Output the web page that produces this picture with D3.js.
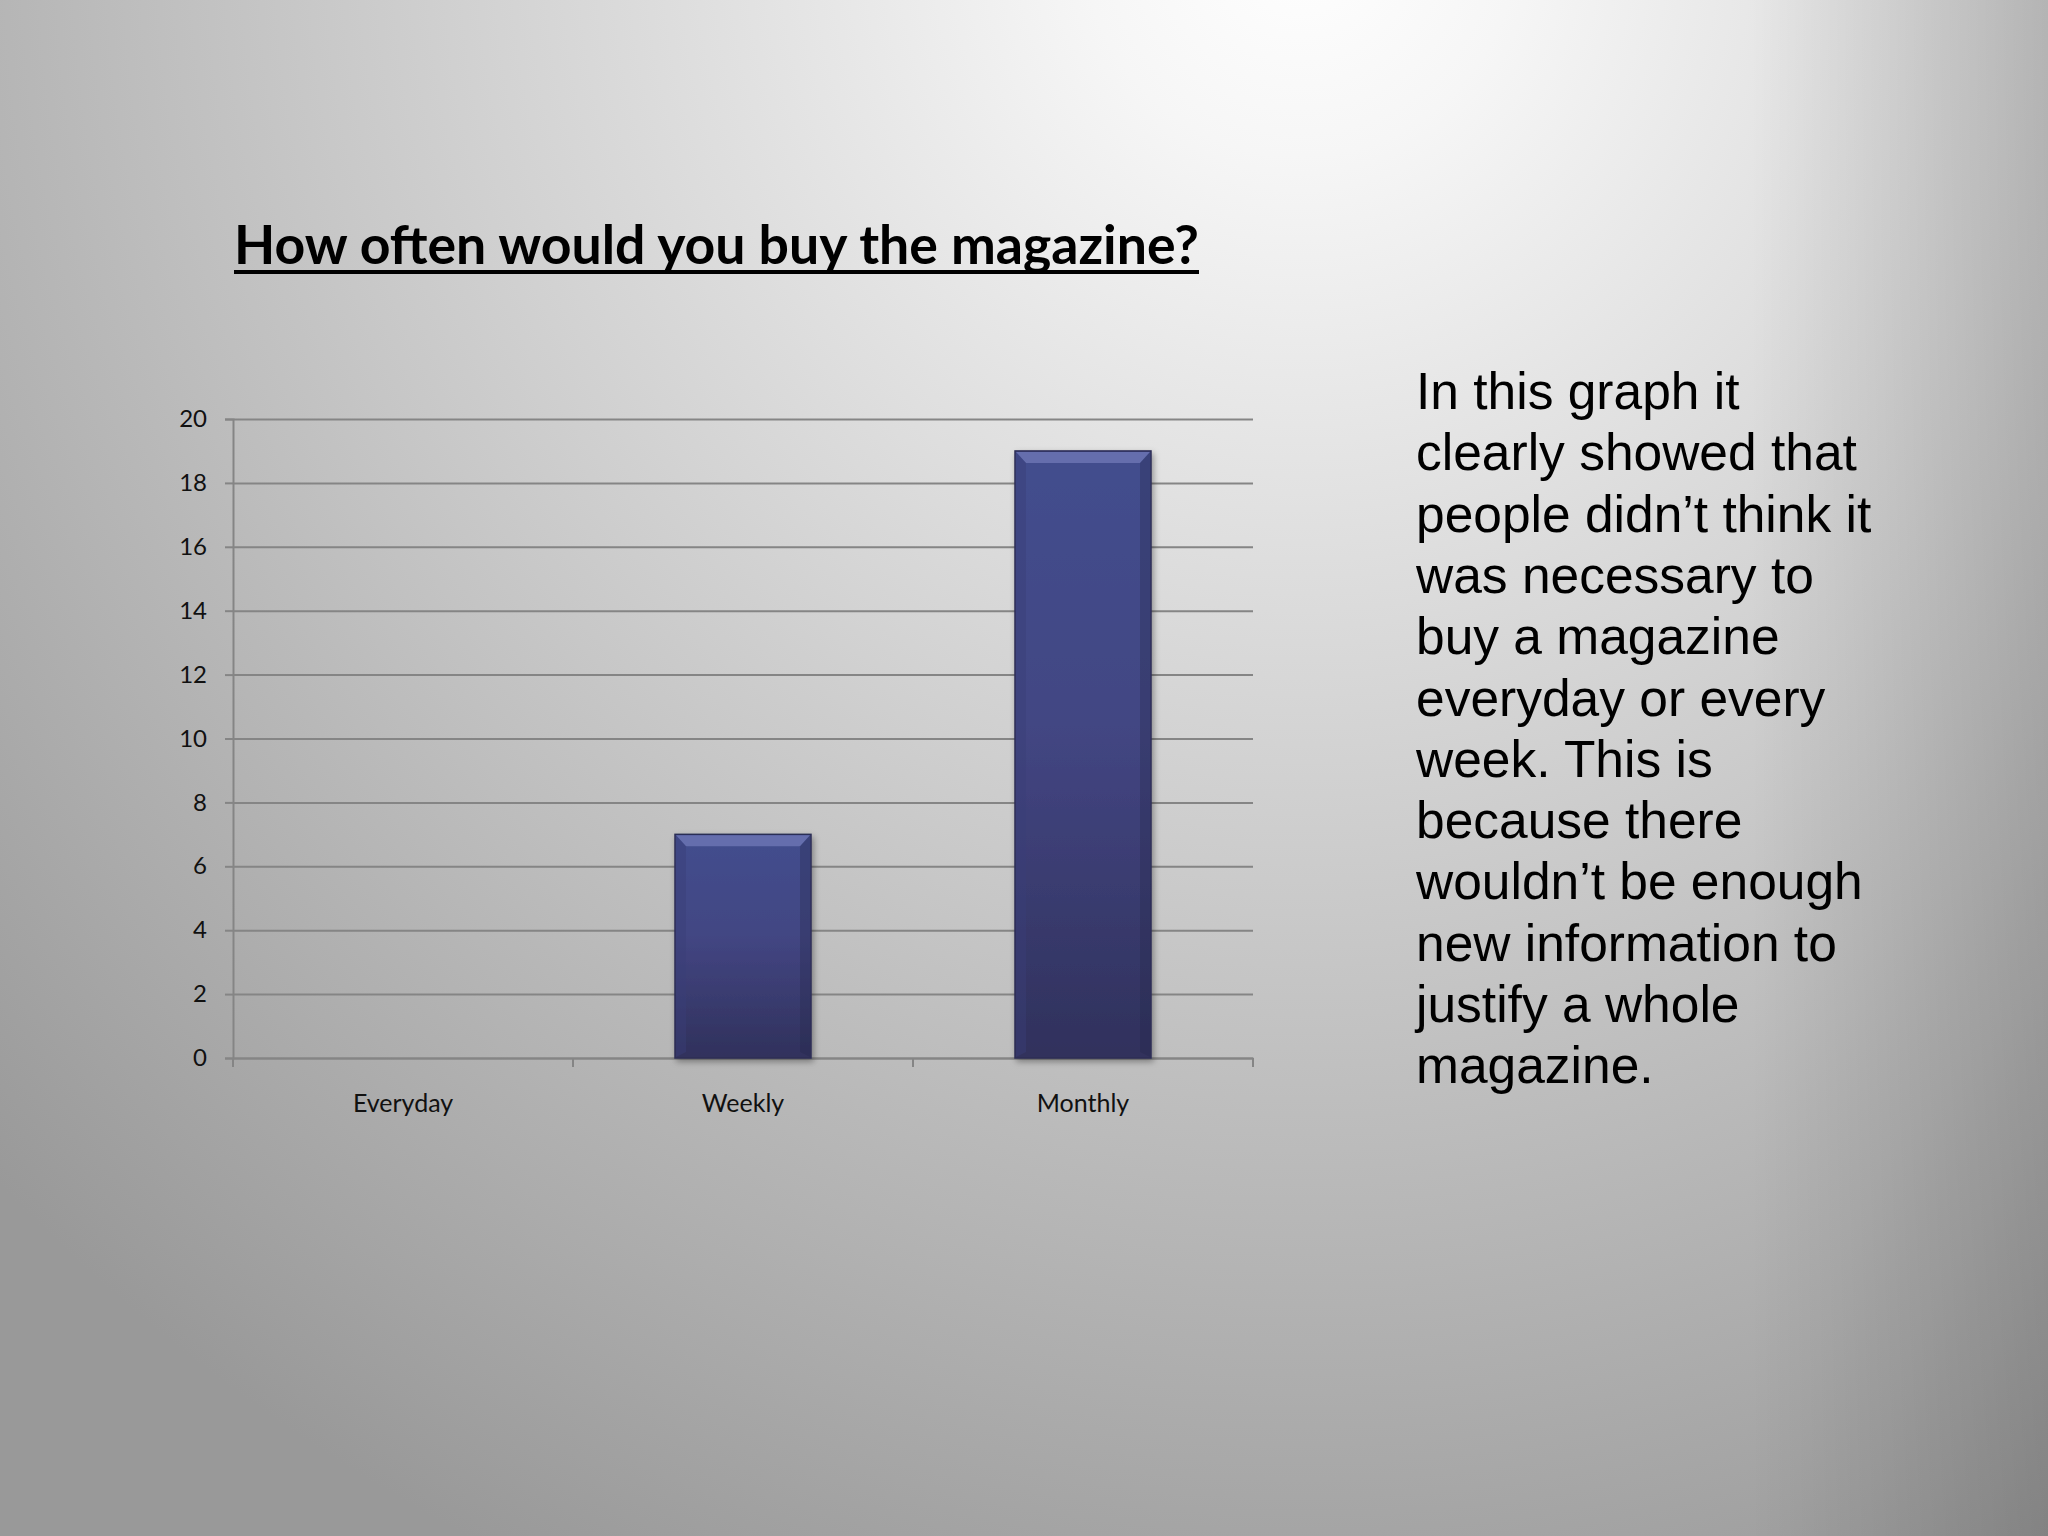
<!DOCTYPE html>
<html>
<head>
<meta charset="utf-8">
<script src="https://cdn.jsdelivr.net/npm/d3@7"></script>
<style>
  body { margin: 0; padding: 0; overflow: hidden; }
</style>
</head>
<body>
<div id="chart"></div>
<script>
var categories = ["Everyday", "Weekly", "Monthly"];
var counts = [0, 7, 19];
var yTicks = [0, 2, 4, 6, 8, 10, 12, 14, 16, 18, 20];
var titleText = "How often would you buy the magazine?";
var noteLines = [
  "In this graph it",
  "clearly showed that",
  "people didn\u2019t think it",
  "was necessary to",
  "buy a magazine",
  "everyday or every",
  "week. This is",
  "because there",
  "wouldn\u2019t be enough",
  "new information to",
  "justify a whole",
  "magazine."
];

var W = 2048, H = 1536;
var plotLeft = 233, plotRight = 1253, plotTop = 419, plotBottom = 1058;

var svg = d3.select("#chart")
            .append("svg")
            .attr("width", W)
            .attr("height", H);

var defs = svg.append("defs");

// slide background
var bg = defs.append("radialGradient")
             .attr("id", "bg")
             .attr("gradientUnits", "userSpaceOnUse")
             .attr("cx", 1300).attr("cy", -60).attr("r", 1800);
bg.append("stop").attr("offset", 0).attr("stop-color", "#ffffff");
bg.append("stop").attr("offset", 0.12).attr("stop-color", "#f6f6f6");
bg.append("stop").attr("offset", 0.4).attr("stop-color", "#d8d8d8");
bg.append("stop").attr("offset", 0.7).attr("stop-color", "#b8b8b8");
bg.append("stop").attr("offset", 1).attr("stop-color", "#999999");

var edgeR = defs.append("linearGradient")
                .attr("id", "edgeR")
                .attr("x1", 0).attr("x2", 1).attr("y1", 0).attr("y2", 0);
edgeR.append("stop").attr("offset", 0).attr("stop-color", "#000").attr("stop-opacity", 0);
edgeR.append("stop").attr("offset", 1).attr("stop-color", "#000").attr("stop-opacity", 0.16);

var barGrad = defs.append("linearGradient")
                  .attr("id", "barGrad")
                  .attr("x1", 0).attr("x2", 0).attr("y1", 0).attr("y2", 1);
barGrad.append("stop").attr("offset", 0).attr("stop-color", "#434e8e");
barGrad.append("stop").attr("offset", 0.45).attr("stop-color", "#434683");
barGrad.append("stop").attr("offset", 1).attr("stop-color", "#30315c");

var shadow = defs.append("filter").attr("id", "shadow")
                 .attr("x", "-10%").attr("y", "-10%").attr("width", "130%").attr("height", "130%");
shadow.append("feDropShadow")
      .attr("dx", 2).attr("dy", 3).attr("stdDeviation", 3)
      .attr("flood-color", "#000").attr("flood-opacity", 0.35);

svg.append("rect").attr("width", W).attr("height", H).attr("fill", "url(#bg)");
svg.append("rect").attr("x", 1750).attr("width", W - 1750).attr("height", H).attr("fill", "url(#edgeR)");

// title
var title = svg.append("text")
               .attr("x", 234)
               .attr("y", 264)
               .attr("font-family", "Lato, 'Open Sans', sans-serif")
               .attr("font-weight", "bold")
               .attr("font-size", "50px")
               .attr("fill", "#000")
               .text(titleText);
var tw = title.node().getComputedTextLength();
title.attr("font-size", (50 * 965 / tw) + "px");
svg.append("rect")
   .attr("x", 234).attr("y", 270)
   .attr("width", 965).attr("height", 4)
   .attr("fill", "#000");

var x = d3.scaleBand()
          .domain(categories)
          .range([plotLeft, plotRight])
          .padding(0);

var y = d3.scaleLinear()
          .domain([0, 20])
          .range([plotBottom, plotTop]);

// gridlines
svg.append("g")
   .attr("transform", "translate(" + plotLeft + ",0)")
   .call(d3.axisRight(y).tickValues(yTicks).tickSize(plotRight - plotLeft).tickFormat(""))
   .call(function(g) {
     g.select(".domain").remove();
     g.selectAll("line").attr("stroke", "#858585").attr("stroke-width", 2);
   });

// y axis
svg.append("g")
   .attr("transform", "translate(" + plotLeft + ",0)")
   .call(d3.axisLeft(y).tickValues(yTicks).tickSize(8).tickPadding(18))
   .call(function(g) {
     g.select(".domain").attr("stroke", "#858585").attr("stroke-width", 2);
     g.selectAll("line").attr("stroke", "#858585").attr("stroke-width", 2);
     g.selectAll("text")
      .attr("font-family", "Lato, sans-serif")
      .attr("font-size", "24px")
      .attr("fill", "#111");
   });

// x axis labels
svg.append("g")
   .attr("transform", "translate(0," + plotBottom + ")")
   .call(d3.axisBottom(x).tickSize(0))
   .call(function(g) {
     g.select(".domain").attr("stroke", "#858585").attr("stroke-width", 2);
     g.selectAll("text")
      .attr("y", 54)
      .attr("dy", 0)
      .attr("font-family", "Lato, sans-serif")
      .attr("font-size", "25px")
      .attr("fill", "#111");
   });

// category boundary ticks
var bounds = categories.map(function(d) { return x(d); }).concat([x.range()[1]]);
svg.append("g")
   .selectAll("line")
   .data(bounds)
   .enter()
   .append("line")
   .attr("x1", function(d) { return d; })
   .attr("x2", function(d) { return d; })
   .attr("y1", plotBottom)
   .attr("y2", plotBottom + 9)
   .attr("stroke", "#858585")
   .attr("stroke-width", 2);

// bars
var bw = x.bandwidth() * 0.4;
function barX(i) { return x(categories[i]) + (x.bandwidth() - bw) / 2; }

var bars = svg.append("g")
              .selectAll("g")
              .data(counts.map(function(d, i) { return {v: d, i: i}; }).filter(function(d) { return d.v > 0; }))
              .enter()
              .append("g");

bars.append("rect")
    .attr("x", function(d) { return barX(d.i); })
    .attr("y", function(d) { return y(d.v); })
    .attr("width", bw)
    .attr("height", function(d) { return plotBottom - y(d.v); })
    .attr("fill", "url(#barGrad)")
    .attr("stroke", "#2c2d55")
    .attr("stroke-width", 1.5)
    .attr("filter", "url(#shadow)");

// top bevel
bars.append("path")
    .attr("d", function(d) {
      var x0 = barX(d.i), y0 = y(d.v);
      return "M" + (x0 + 1) + "," + (y0 + 1) + "L" + (x0 + bw - 1) + "," + (y0 + 1) +
             "L" + (x0 + bw - 11) + "," + (y0 + 12) + "L" + (x0 + 11) + "," + (y0 + 12) + "Z";
    })
    .attr("fill", "#6b74b3")
    .attr("opacity", 0.85);

// side bevels
bars.append("path")
    .attr("d", function(d) {
      var x0 = barX(d.i), y0 = y(d.v);
      return "M" + (x0 + 1) + "," + (y0 + 1) + "L" + (x0 + 11) + "," + (y0 + 12) +
             "L" + (x0 + 11) + "," + (plotBottom - 6) + "L" + (x0 + 1) + "," + (plotBottom - 1) + "Z";
    })
    .attr("fill", "#3a3f78")
    .attr("opacity", 0.45);
bars.append("path")
    .attr("d", function(d) {
      var x0 = barX(d.i), y0 = y(d.v);
      return "M" + (x0 + bw - 1) + "," + (y0 + 1) + "L" + (x0 + bw - 11) + "," + (y0 + 12) +
             "L" + (x0 + bw - 11) + "," + (plotBottom - 6) + "L" + (x0 + bw - 1) + "," + (plotBottom - 1) + "Z";
    })
    .attr("fill", "#262848")
    .attr("opacity", 0.3);

// note text
svg.append("text")
   .attr("font-family", "'Liberation Sans', Arial, sans-serif")
   .attr("font-size", "51.5px")
   .attr("fill", "#000")
   .selectAll("tspan")
   .data(noteLines)
   .enter()
   .append("tspan")
   .attr("x", 1416)
   .attr("y", function(d, i) { return 409 + i * 61.3; })
   .text(function(d) { return d; });
</script>
</body>
</html>
